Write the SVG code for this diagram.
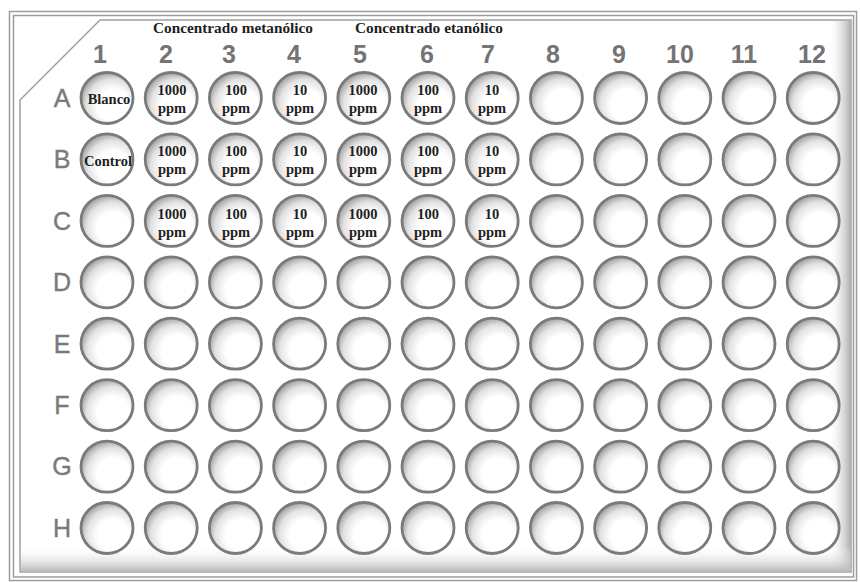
<svg xmlns="http://www.w3.org/2000/svg" width="860" height="582" viewBox="0 0 860 582">
<defs>
<style>
.w{fill:url(#wg);stroke:#7a7a7a;stroke-width:2.8}
.num{font-family:"Liberation Sans",Arial,sans-serif;font-size:25px;font-weight:bold;fill:#747474;text-anchor:middle}
.row{font-family:"Liberation Sans",Arial,sans-serif;font-size:25px;fill:#7a7a7a;stroke:#7a7a7a;stroke-width:0.4;text-anchor:middle}
.hdr{font-family:"Liberation Serif","Times New Roman",serif;font-size:14px;font-weight:bold;fill:#1e1e1e;text-anchor:middle}
.wt{font-family:"Liberation Serif","Times New Roman",serif;font-size:14.5px;font-weight:bold;fill:#1e1e1e;text-anchor:middle}
.fr{fill:none;stroke:#9c9c9c;stroke-width:1.5}
</style>
<radialGradient id="wg" cx="0.6" cy="0.62" r="0.62" fx="0.64" fy="0.66">
<stop offset="0" stop-color="#ffffff"/>
<stop offset="0.5" stop-color="#ffffff"/>
<stop offset="0.8" stop-color="#e2e2e2"/>
<stop offset="1" stop-color="#a9a9a9"/>
</radialGradient>
<linearGradient id="rs" x1="0" y1="0" x2="1" y2="0">
<stop offset="0" stop-color="#ffffff" stop-opacity="0"/>
<stop offset="1" stop-color="#b0b0b0"/>
</linearGradient>
<linearGradient id="bs" x1="0" y1="0" x2="0" y2="1">
<stop offset="0" stop-color="#ffffff" stop-opacity="0"/>
<stop offset="1" stop-color="#b8b8b8"/>
</linearGradient>
</defs>
<rect width="860" height="582" fill="#ffffff"/>
<g id="plate">
<rect class="fr" x="9.5" y="11.5" width="847" height="569" fill="#f7f7f7"/>
<rect class="fr" x="13.5" y="15.5" width="840" height="561.5" fill="#ffffff"/>
<polygon points="20,100 100,20 851,20 851,572 20,572" fill="#ffffff" stroke="#a0a0a0" stroke-width="1.5"/>
<rect x="828" y="21" width="22.5" height="550.5" fill="url(#rs)"/>
<rect x="21" y="546" width="829.5" height="25.5" fill="url(#bs)"/>
</g>
<g id="headers">
<text class="hdr" x="233" y="33" textLength="160" lengthAdjust="spacingAndGlyphs">Concentrado metanólico</text>
<text class="hdr" x="429" y="33" textLength="148" lengthAdjust="spacingAndGlyphs">Concentrado etanólico</text>
</g>
<g id="columns">
<text class="num" x="100" y="63">1</text>
<text class="num" x="166" y="63">2</text>
<text class="num" x="229" y="63">3</text>
<text class="num" x="294" y="63">4</text>
<text class="num" x="360" y="63">5</text>
<text class="num" x="427" y="63">6</text>
<text class="num" x="488" y="63">7</text>
<text class="num" x="553" y="63">8</text>
<text class="num" x="619" y="63">9</text>
<text class="num" x="680" y="63">10</text>
<text class="num" x="744" y="63">11</text>
<text class="num" x="812" y="63">12</text>
</g>
<g id="rows">
<text class="row" x="62" y="107">A</text>
<text class="row" x="62" y="168">B</text>
<text class="row" x="62" y="230">C</text>
<text class="row" x="62" y="291">D</text>
<text class="row" x="62" y="353">E</text>
<text class="row" x="62" y="414">F</text>
<text class="row" x="62" y="475">G</text>
<text class="row" x="62" y="537">H</text>
</g>
<g id="wells">
<g id="A1"><ellipse class="w" cx="107" cy="98" rx="26" ry="25.5"/><text class="wt" x="109" y="104">Blanco</text></g>
<g id="A2"><ellipse class="w" cx="171.2" cy="98" rx="26" ry="25.5"/><text class="wt" x="172" y="95">1000</text><text class="wt" x="172" y="113">ppm</text></g>
<g id="A3"><ellipse class="w" cx="235.4" cy="98" rx="26" ry="25.5"/><text class="wt" x="236" y="95">100</text><text class="wt" x="236" y="113">ppm</text></g>
<g id="A4"><ellipse class="w" cx="299.6" cy="98" rx="26" ry="25.5"/><text class="wt" x="300" y="95">10</text><text class="wt" x="300" y="113">ppm</text></g>
<g id="A5"><ellipse class="w" cx="363.8" cy="98" rx="26" ry="25.5"/><text class="wt" x="363" y="95">1000</text><text class="wt" x="363" y="113">ppm</text></g>
<g id="A6"><ellipse class="w" cx="428" cy="98" rx="26" ry="25.5"/><text class="wt" x="428" y="95">100</text><text class="wt" x="428" y="113">ppm</text></g>
<g id="A7"><ellipse class="w" cx="492.2" cy="98" rx="26" ry="25.5"/><text class="wt" x="492" y="95">10</text><text class="wt" x="492" y="113">ppm</text></g>
<g id="A8"><ellipse class="w" cx="556.4" cy="98" rx="26" ry="25.5"/></g>
<g id="A9"><ellipse class="w" cx="620.6" cy="98" rx="26" ry="25.5"/></g>
<g id="A10"><ellipse class="w" cx="684.8" cy="98" rx="26" ry="25.5"/></g>
<g id="A11"><ellipse class="w" cx="749" cy="98" rx="26" ry="25.5"/></g>
<g id="A12"><ellipse class="w" cx="813.2" cy="98" rx="26" ry="25.5"/></g>

<g id="B1"><ellipse class="w" cx="107" cy="159.4" rx="26" ry="25.5"/><text class="wt" x="108" y="166">Control</text></g>
<g id="B2"><ellipse class="w" cx="171.2" cy="159.4" rx="26" ry="25.5"/><text class="wt" x="172" y="156.4">1000</text><text class="wt" x="172" y="174.4">ppm</text></g>
<g id="B3"><ellipse class="w" cx="235.4" cy="159.4" rx="26" ry="25.5"/><text class="wt" x="236" y="156.4">100</text><text class="wt" x="236" y="174.4">ppm</text></g>
<g id="B4"><ellipse class="w" cx="299.6" cy="159.4" rx="26" ry="25.5"/><text class="wt" x="300" y="156.4">10</text><text class="wt" x="300" y="174.4">ppm</text></g>
<g id="B5"><ellipse class="w" cx="363.8" cy="159.4" rx="26" ry="25.5"/><text class="wt" x="363" y="156.4">1000</text><text class="wt" x="363" y="174.4">ppm</text></g>
<g id="B6"><ellipse class="w" cx="428" cy="159.4" rx="26" ry="25.5"/><text class="wt" x="428" y="156.4">100</text><text class="wt" x="428" y="174.4">ppm</text></g>
<g id="B7"><ellipse class="w" cx="492.2" cy="159.4" rx="26" ry="25.5"/><text class="wt" x="492" y="156.4">10</text><text class="wt" x="492" y="174.4">ppm</text></g>
<g id="B8"><ellipse class="w" cx="556.4" cy="159.4" rx="26" ry="25.5"/></g>
<g id="B9"><ellipse class="w" cx="620.6" cy="159.4" rx="26" ry="25.5"/></g>
<g id="B10"><ellipse class="w" cx="684.8" cy="159.4" rx="26" ry="25.5"/></g>
<g id="B11"><ellipse class="w" cx="749" cy="159.4" rx="26" ry="25.5"/></g>
<g id="B12"><ellipse class="w" cx="813.2" cy="159.4" rx="26" ry="25.5"/></g>

<g id="C1"><ellipse class="w" cx="107" cy="220.9" rx="26" ry="25.5"/></g>
<g id="C2"><ellipse class="w" cx="171.2" cy="220.9" rx="26" ry="25.5"/><text class="wt" x="172" y="219">1000</text><text class="wt" x="172" y="237">ppm</text></g>
<g id="C3"><ellipse class="w" cx="235.4" cy="220.9" rx="26" ry="25.5"/><text class="wt" x="236" y="219">100</text><text class="wt" x="236" y="237">ppm</text></g>
<g id="C4"><ellipse class="w" cx="299.6" cy="220.9" rx="26" ry="25.5"/><text class="wt" x="300" y="219">10</text><text class="wt" x="300" y="237">ppm</text></g>
<g id="C5"><ellipse class="w" cx="363.8" cy="220.9" rx="26" ry="25.5"/><text class="wt" x="363" y="219">1000</text><text class="wt" x="363" y="237">ppm</text></g>
<g id="C6"><ellipse class="w" cx="428" cy="220.9" rx="26" ry="25.5"/><text class="wt" x="428" y="219">100</text><text class="wt" x="428" y="237">ppm</text></g>
<g id="C7"><ellipse class="w" cx="492.2" cy="220.9" rx="26" ry="25.5"/><text class="wt" x="492" y="219">10</text><text class="wt" x="492" y="237">ppm</text></g>
<g id="C8"><ellipse class="w" cx="556.4" cy="220.9" rx="26" ry="25.5"/></g>
<g id="C9"><ellipse class="w" cx="620.6" cy="220.9" rx="26" ry="25.5"/></g>
<g id="C10"><ellipse class="w" cx="684.8" cy="220.9" rx="26" ry="25.5"/></g>
<g id="C11"><ellipse class="w" cx="749" cy="220.9" rx="26" ry="25.5"/></g>
<g id="C12"><ellipse class="w" cx="813.2" cy="220.9" rx="26" ry="25.5"/></g>

<g id="D1"><ellipse class="w" cx="107" cy="282.3" rx="26" ry="25.5"/></g>
<g id="D2"><ellipse class="w" cx="171.2" cy="282.3" rx="26" ry="25.5"/></g>
<g id="D3"><ellipse class="w" cx="235.4" cy="282.3" rx="26" ry="25.5"/></g>
<g id="D4"><ellipse class="w" cx="299.6" cy="282.3" rx="26" ry="25.5"/></g>
<g id="D5"><ellipse class="w" cx="363.8" cy="282.3" rx="26" ry="25.5"/></g>
<g id="D6"><ellipse class="w" cx="428" cy="282.3" rx="26" ry="25.5"/></g>
<g id="D7"><ellipse class="w" cx="492.2" cy="282.3" rx="26" ry="25.5"/></g>
<g id="D8"><ellipse class="w" cx="556.4" cy="282.3" rx="26" ry="25.5"/></g>
<g id="D9"><ellipse class="w" cx="620.6" cy="282.3" rx="26" ry="25.5"/></g>
<g id="D10"><ellipse class="w" cx="684.8" cy="282.3" rx="26" ry="25.5"/></g>
<g id="D11"><ellipse class="w" cx="749" cy="282.3" rx="26" ry="25.5"/></g>
<g id="D12"><ellipse class="w" cx="813.2" cy="282.3" rx="26" ry="25.5"/></g>

<g id="E1"><ellipse class="w" cx="107" cy="343.7" rx="26" ry="25.5"/></g>
<g id="E2"><ellipse class="w" cx="171.2" cy="343.7" rx="26" ry="25.5"/></g>
<g id="E3"><ellipse class="w" cx="235.4" cy="343.7" rx="26" ry="25.5"/></g>
<g id="E4"><ellipse class="w" cx="299.6" cy="343.7" rx="26" ry="25.5"/></g>
<g id="E5"><ellipse class="w" cx="363.8" cy="343.7" rx="26" ry="25.5"/></g>
<g id="E6"><ellipse class="w" cx="428" cy="343.7" rx="26" ry="25.5"/></g>
<g id="E7"><ellipse class="w" cx="492.2" cy="343.7" rx="26" ry="25.5"/></g>
<g id="E8"><ellipse class="w" cx="556.4" cy="343.7" rx="26" ry="25.5"/></g>
<g id="E9"><ellipse class="w" cx="620.6" cy="343.7" rx="26" ry="25.5"/></g>
<g id="E10"><ellipse class="w" cx="684.8" cy="343.7" rx="26" ry="25.5"/></g>
<g id="E11"><ellipse class="w" cx="749" cy="343.7" rx="26" ry="25.5"/></g>
<g id="E12"><ellipse class="w" cx="813.2" cy="343.7" rx="26" ry="25.5"/></g>

<g id="F1"><ellipse class="w" cx="107" cy="405.2" rx="26" ry="25.5"/></g>
<g id="F2"><ellipse class="w" cx="171.2" cy="405.2" rx="26" ry="25.5"/></g>
<g id="F3"><ellipse class="w" cx="235.4" cy="405.2" rx="26" ry="25.5"/></g>
<g id="F4"><ellipse class="w" cx="299.6" cy="405.2" rx="26" ry="25.5"/></g>
<g id="F5"><ellipse class="w" cx="363.8" cy="405.2" rx="26" ry="25.5"/></g>
<g id="F6"><ellipse class="w" cx="428" cy="405.2" rx="26" ry="25.5"/></g>
<g id="F7"><ellipse class="w" cx="492.2" cy="405.2" rx="26" ry="25.5"/></g>
<g id="F8"><ellipse class="w" cx="556.4" cy="405.2" rx="26" ry="25.5"/></g>
<g id="F9"><ellipse class="w" cx="620.6" cy="405.2" rx="26" ry="25.5"/></g>
<g id="F10"><ellipse class="w" cx="684.8" cy="405.2" rx="26" ry="25.5"/></g>
<g id="F11"><ellipse class="w" cx="749" cy="405.2" rx="26" ry="25.5"/></g>
<g id="F12"><ellipse class="w" cx="813.2" cy="405.2" rx="26" ry="25.5"/></g>

<g id="G1"><ellipse class="w" cx="107" cy="466.6" rx="26" ry="25.5"/></g>
<g id="G2"><ellipse class="w" cx="171.2" cy="466.6" rx="26" ry="25.5"/></g>
<g id="G3"><ellipse class="w" cx="235.4" cy="466.6" rx="26" ry="25.5"/></g>
<g id="G4"><ellipse class="w" cx="299.6" cy="466.6" rx="26" ry="25.5"/></g>
<g id="G5"><ellipse class="w" cx="363.8" cy="466.6" rx="26" ry="25.5"/></g>
<g id="G6"><ellipse class="w" cx="428" cy="466.6" rx="26" ry="25.5"/></g>
<g id="G7"><ellipse class="w" cx="492.2" cy="466.6" rx="26" ry="25.5"/></g>
<g id="G8"><ellipse class="w" cx="556.4" cy="466.6" rx="26" ry="25.5"/></g>
<g id="G9"><ellipse class="w" cx="620.6" cy="466.6" rx="26" ry="25.5"/></g>
<g id="G10"><ellipse class="w" cx="684.8" cy="466.6" rx="26" ry="25.5"/></g>
<g id="G11"><ellipse class="w" cx="749" cy="466.6" rx="26" ry="25.5"/></g>
<g id="G12"><ellipse class="w" cx="813.2" cy="466.6" rx="26" ry="25.5"/></g>

<g id="H1"><ellipse class="w" cx="107" cy="528" rx="26" ry="25.5"/></g>
<g id="H2"><ellipse class="w" cx="171.2" cy="528" rx="26" ry="25.5"/></g>
<g id="H3"><ellipse class="w" cx="235.4" cy="528" rx="26" ry="25.5"/></g>
<g id="H4"><ellipse class="w" cx="299.6" cy="528" rx="26" ry="25.5"/></g>
<g id="H5"><ellipse class="w" cx="363.8" cy="528" rx="26" ry="25.5"/></g>
<g id="H6"><ellipse class="w" cx="428" cy="528" rx="26" ry="25.5"/></g>
<g id="H7"><ellipse class="w" cx="492.2" cy="528" rx="26" ry="25.5"/></g>
<g id="H8"><ellipse class="w" cx="556.4" cy="528" rx="26" ry="25.5"/></g>
<g id="H9"><ellipse class="w" cx="620.6" cy="528" rx="26" ry="25.5"/></g>
<g id="H10"><ellipse class="w" cx="684.8" cy="528" rx="26" ry="25.5"/></g>
<g id="H11"><ellipse class="w" cx="749" cy="528" rx="26" ry="25.5"/></g>
<g id="H12"><ellipse class="w" cx="813.2" cy="528" rx="26" ry="25.5"/></g>
</g>
</svg>
